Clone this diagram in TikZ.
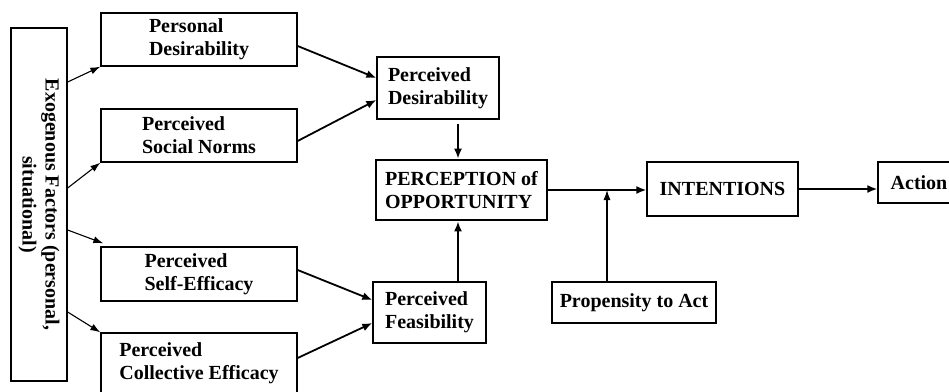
\documentclass[tikz,border=0pt]{standalone}
\usepackage{fontspec}
\setmainfont{Liberation Serif}
\usetikzlibrary{arrows.meta,calc}

\begin{document}
\begin{tikzpicture}[x=1pt, y=-1pt,
    box/.style={draw, line width=1.3pt, align=left, inner sep=0pt, font=\bfseries\fontsize{20}{23}\selectfont},
    arr/.style={-{Latex[length=10pt,width=8pt]}, line width=1.8pt},
    thinarr/.style={-{Latex[length=10pt,width=7pt]}, line width=1.1pt}]

    \useasboundingbox (0,0) rectangle (949,391);

    \node[box, rotate=-90, align=center, minimum width=353pt, minimum height=56pt] (exo) at (39,204.5) {Exogenous Factors (personal,\\situational)};

    \node[box, minimum width=196pt, minimum height=53pt] (persdes) at (199,39.5) {Personal\\Desirability};
    \node[box, minimum width=196pt, minimum height=53pt] (socnorm) at (199,135.5) {Perceived\\Social Norms};
    \node[box, minimum width=196pt, minimum height=54pt] (selfeff) at (199,274) {Perceived\\Self-Efficacy};
    \node[box, minimum width=196pt, minimum height=60pt] (colleff) at (199,363) {Perceived\\Collective Efficacy};

    \node[box, minimum width=122pt, minimum height=62pt] (percdes) at (438,88) {Perceived\\Desirability};
    \node[box, line width=2.8pt, minimum width=171pt, minimum height=60pt] (po) at (461.5,190) {PERCEPTION of\\OPPORTUNITY};
    \node[box, minimum width=113pt, minimum height=61pt] (feas) at (429.5,312.5) {Perceived\\Feasibility};
    \node[box, minimum width=164pt, minimum height=41pt] (prop) at (634,302.5) {Propensity to Act};
    \node[box, minimum width=151pt, minimum height=54pt] (intent) at (722.5,189) {INTENTIONS};
    \node[box, minimum width=82pt, minimum height=41pt] (action) at (919,182.5) {Action};

    \coordinate (vx) at (458,0);
    \coordinate (join) at (607,0);

    % exogenous factors feed the four perceptions
    \draw[thinarr] ($(exo.north)+(0,-122.5)$) -- (persdes.south west);
    \draw[thinarr] ($(exo.north)+(0,-16.5)$) -- (socnorm.south west);
    \draw[thinarr] ($(exo.north)+(0,25.5)$) -- ($(selfeff.north west)+(3,-3)$);
    \draw[thinarr] ($(exo.north)+(0,107.5)$) -- (colleff.north west);

    \draw[arr] ($(persdes.east)+(0,6.5)$) -- ($(percdes.west)+(0,-10)$);
    \draw[arr] ($(socnorm.east)+(0,5.5)$) -- ($(percdes.west)+(0,12)$);
    \draw[arr] ($(selfeff.east)+(0,-4)$) -- ($(feas.west)+(0,-12.5)$);
    \draw[arr] ($(colleff.east)+(0,-5)$) -- ($(feas.west)+(0,10.5)$);

    \draw[arr] ($(vx |- percdes.south)+(0,4)$) -- (vx |- po.north);
    \draw[arr] (vx |- feas.north) -- (vx |- po.south);
    \draw[arr] (po.east) -- (po.east -| intent.west);
    \draw[thinarr] (join |- prop.north) -- (join |- po.east);
    \draw[arr] (intent.east) -- (intent.east -| action.west);

\end{tikzpicture}
\end{document}
